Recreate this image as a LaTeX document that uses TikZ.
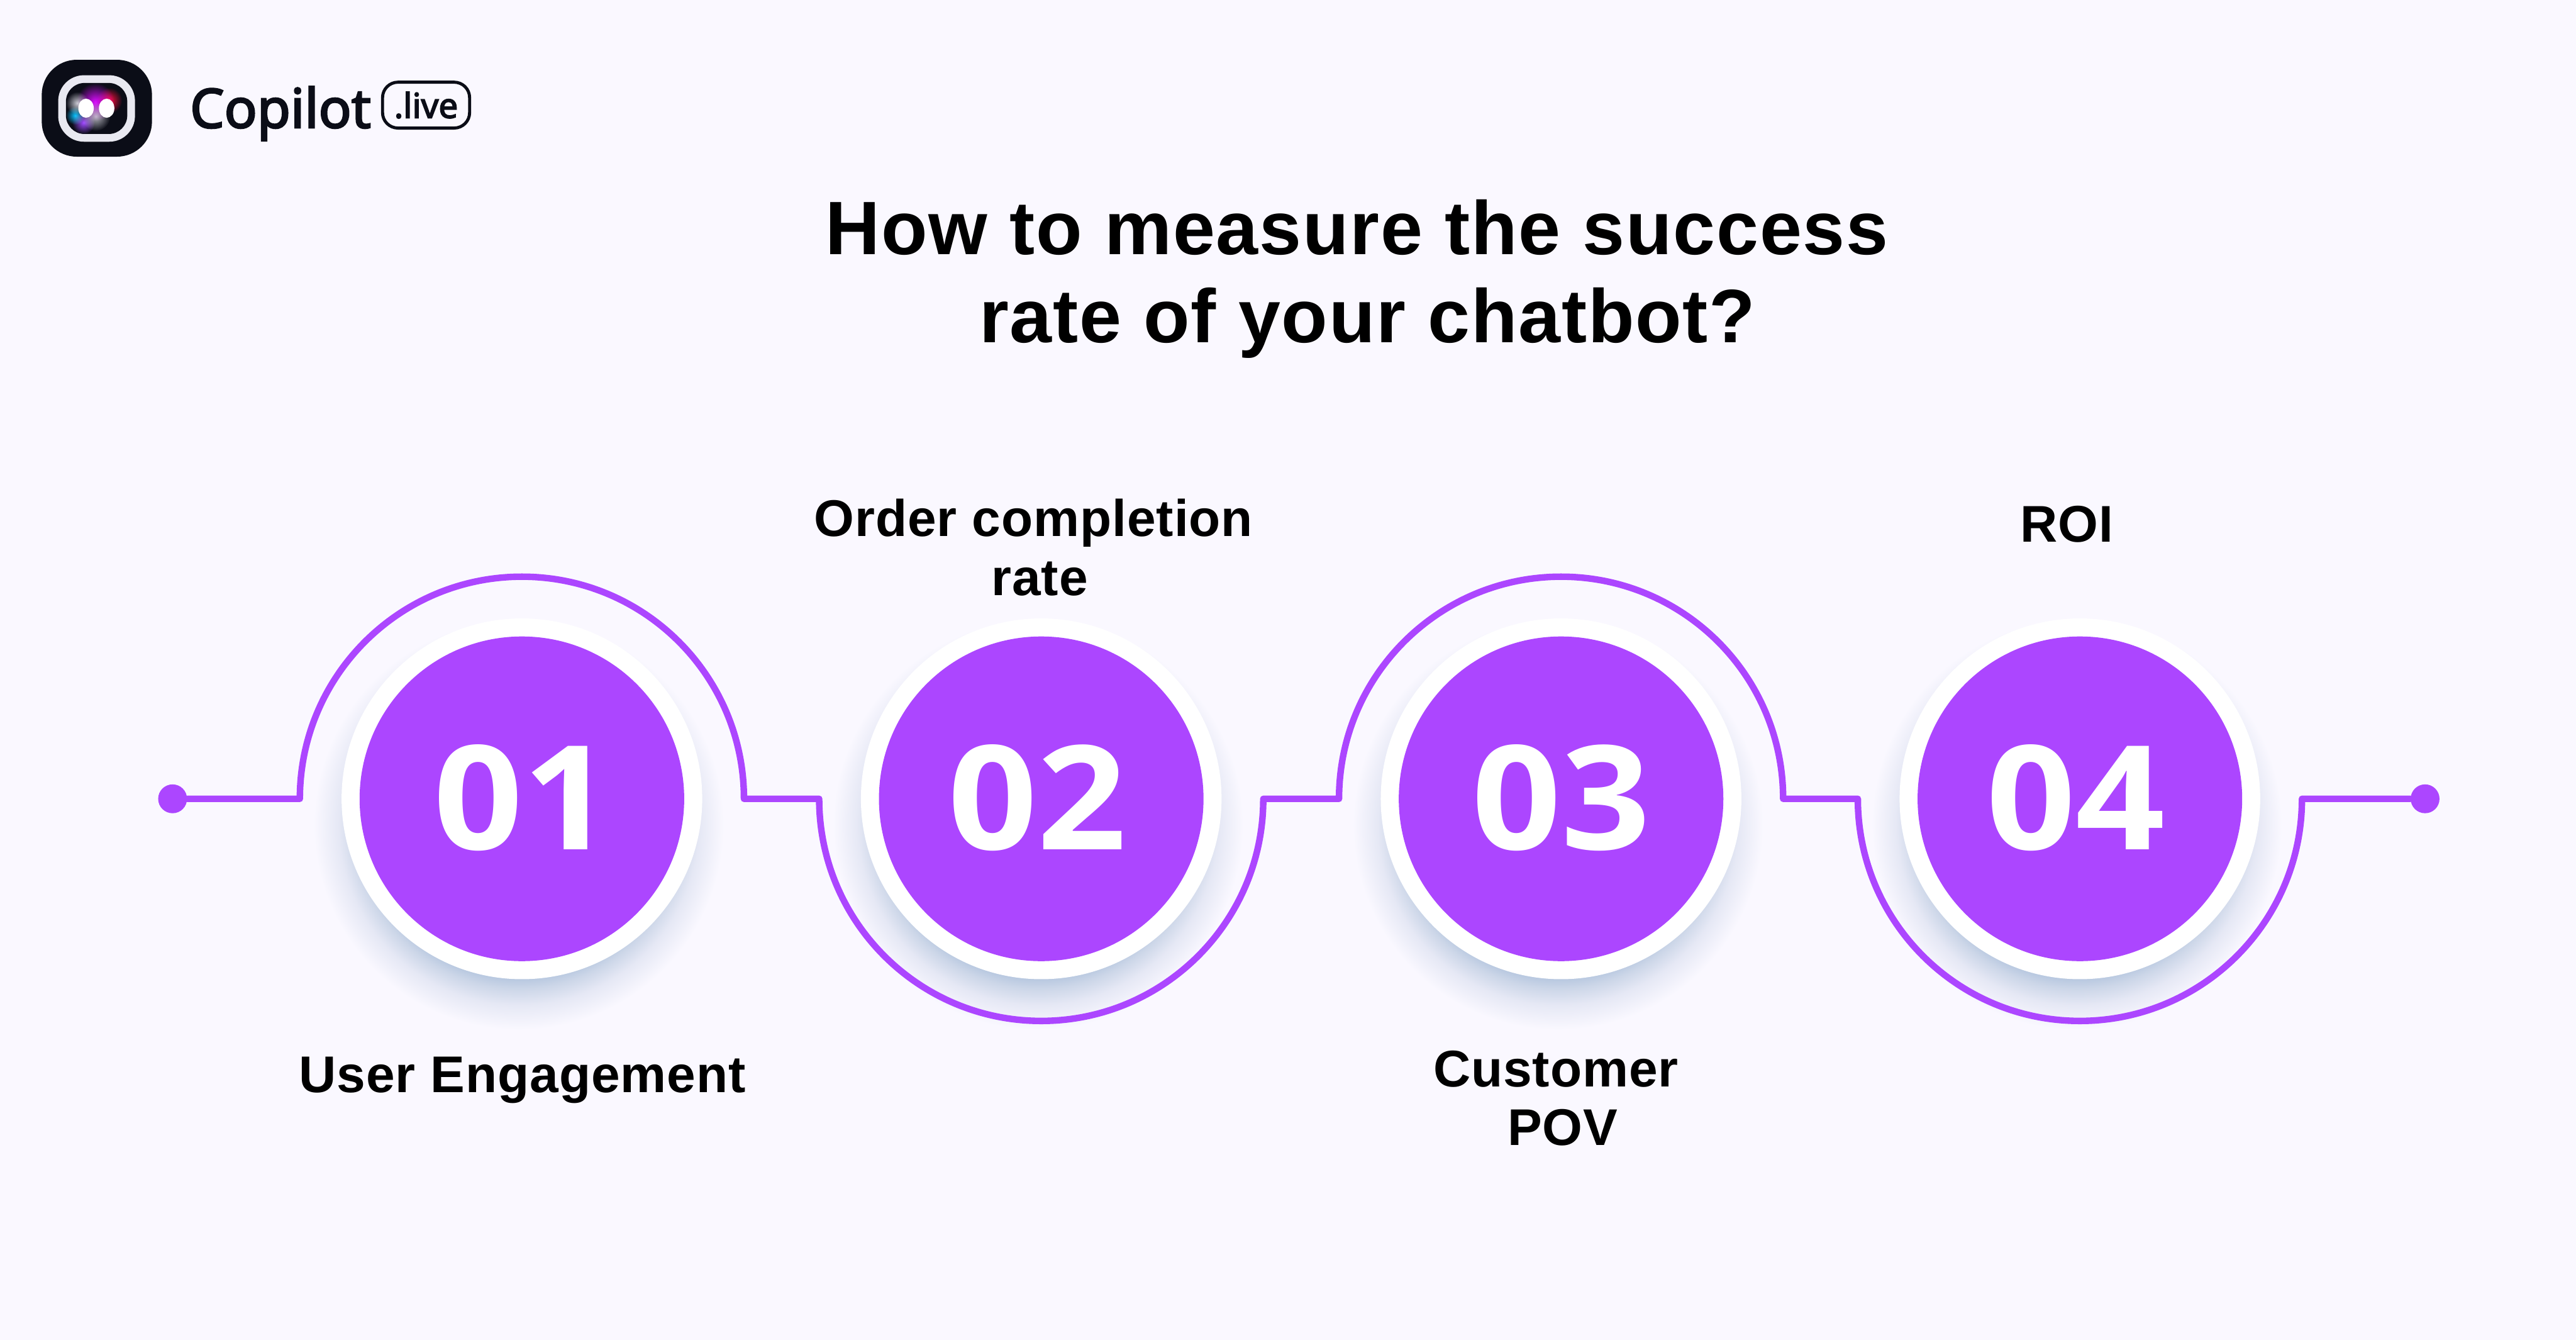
\documentclass[tikz,border=0pt]{standalone}
\usepackage{fontspec}
\usepackage{xcolor}
\setmainfont{Liberation Sans}
\newfontfamily\titlefont[LetterSpace=1.5]{Liberation Sans}
\newfontfamily\labelfont[LetterSpace=1.2]{Liberation Sans}
\newfontfamily\numfont[FakeStretch=1.08]{Open Sans}
\newfontfamily\logofont[FakeBold=3]{Noto Sans}
\usetikzlibrary{calc}

\definecolor{bgpage}{HTML}{FAF8FF}
\definecolor{violet}{HTML}{AC46FF}
\definecolor{inkdark}{HTML}{0B0D17}
\definecolor{ringlight}{HTML}{E9E9F1}

\pgfdeclareradialshading{discshadow}{\pgfpointorigin}{
	rgb(0bp)=(0.70,0.77,0.87);
	rgb(18.5bp)=(0.70,0.77,0.87);
	rgb(20bp)=(0.80,0.84,0.91);
	rgb(22bp)=(0.90,0.91,0.96);
	rgb(25bp)=(0.98,0.973,1);
	rgb(50bp)=(0.98,0.973,1)}

\tikzset{
	wire/.style = {draw = violet, line width = 3.6pt, line join = round, line cap = round},
	enddot/.style = {circle, fill = violet, minimum size = 0.56cm, inner sep = 0},
	halo/.style = {circle, fill = white, minimum size = 7cm, inner sep = 0},
	disc/.style = {circle, fill = violet, minimum size = 6.3cm, inner sep = 0},
	numtext/.style = {text = white, font = \numfont\bfseries\fontsize{80}{80}\selectfont, inner sep = 0},
	steplabel/.style = {text = black, align = center, inner sep = 0, font = \labelfont\bfseries\fontsize{28.5}{32.5}\selectfont},
	blob/.style = {blend mode = screen}
}

\begin{document}
\begin{tikzpicture}
	\def\rarc{4.31};
	\def\ymid{10.5};
	\def\xa{10.13};
	\def\xb{20.21};
	\def\xc{30.30};
	\def\xd{40.37};
	
	\path [fill = bgpage] (0,0) rectangle (50,26);
	\useasboundingbox (0,0) rectangle (50,26);
	
	% logo
	\fill [inkdark, rounded corners = 0.68cm] (0.81,22.96) rectangle (2.95,24.84);
	\fill [ringlight, rounded corners = 0.5cm] (1.13,23.25) rectangle (2.62,24.54);
	\fill [inkdark, rounded corners = 0.36cm] (1.28,23.40) rectangle (2.47,24.39);
	\shade [blob, inner color = magenta!85!blue, outer color = black] (1.85,24.02) circle (0.37);
	\shade [blob, inner color = red!85!magenta, outer color = black] (2.12,24.05) circle (0.25);
	\shade [blob, inner color = cyan!75!blue, outer color = black] (1.46,23.76) circle (0.18);
	\shade [blob, inner color = violet!90!blue, outer color = black] (1.62,23.62) circle (0.22);
	\shade [blob, inner color = ringlight!75!black, outer color = black] (1.86,23.74) circle (0.28);
	\shade [blob, inner color = ringlight!85!black, outer color = black] (1.50,24.00) circle (0.22);
	\fill [white] (1.67,23.90) ellipse (0.15 and 0.185);
	\fill [white] (2.07,23.90) ellipse (0.15 and 0.185);
	\node [text = inkdark, inner sep = 0, anchor = base west, font = \logofont\fontsize{30}{30}\selectfont] (brand) at (3.68,23.52) {Copilot};
	\node [draw = inkdark, line width = 1.7pt, rounded corners = 0.3cm, minimum width = 1.69cm, minimum height = 0.89cm, inner sep = 0, text = inkdark, font = \logofont\fontsize{19}{19}\selectfont] (badge) at (8.27,23.96) {\raisebox{-0.06cm}{.live}};
	
	% title
	\node [text = black, align = center, inner sep = 0, font = \titlefont\bfseries\fontsize{41.8}{48.5}\selectfont] (title) at (26.34,20.59) {How to measure the success\\\hspace*{0.4cm}rate of your chatbot?};
	
	% shadows
	\shade [shading = discshadow] (10.07,10.0) circle (3.98);
	\shade [shading = discshadow] (20.15,10.0) circle (3.98);
	\shade [shading = discshadow] (30.24,10.0) circle (3.98);
	\shade [shading = discshadow] (40.31,10.0) circle (3.98);
	
	% connector
	\node [enddot] (dotleft) at (3.35,\ymid) {};
	\node [enddot] (dotright) at (47.07,\ymid) {};
	\draw [wire] (dotleft) -- ({\xa - \rarc},\ymid) arc (180:0:\rarc) -- ({\xb - \rarc},\ymid) arc (180:360:\rarc) -- ({\xc - \rarc},\ymid) arc (180:0:\rarc) -- ({\xd - \rarc},\ymid) arc (180:360:\rarc) -- (dotright);
	
	% discs
	\node [halo] (halo1) at (\xa,\ymid) {};
	\node [halo] (halo2) at (\xb,\ymid) {};
	\node [halo] (halo3) at (\xc,\ymid) {};
	\node [halo] (halo4) at (\xd,\ymid) {};
	\node [disc] (disc1) at (\xa,\ymid) {};
	\node [disc] (disc2) at (\xb,\ymid) {};
	\node [disc] (disc3) at (\xc,\ymid) {};
	\node [disc] (disc4) at (\xd,\ymid) {};
	\node [numtext] (num1) at (10.15,10.52) {01};
	\node [numtext] (num2) at (20.14,10.52) {02};
	\node [numtext] (num3) at (30.30,10.52) {03};
	\node [numtext] (num4) at (40.29,10.52) {04};
	
	% labels
	\node [steplabel] (label1) at (10.14,5.04) {User Engagement};
	\node [steplabel] (label2) at (20.06,15.38) {Order completion\\\hspace*{0.24cm}rate};
	\node [steplabel] (label3) at (30.20,4.69) {Customer\\\hspace*{0.26cm}POV};
	\node [steplabel] (label4) at (40.12,15.83) {ROI};
\end{tikzpicture}
\end{document}
